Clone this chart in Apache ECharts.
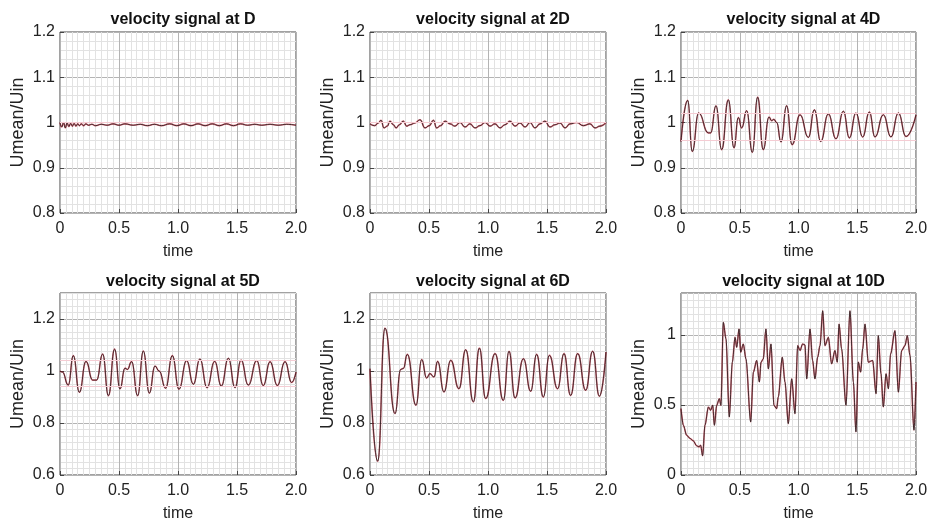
<!DOCTYPE html>
<html><head><meta charset="utf-8">
<script src="https://cdn.jsdelivr.net/npm/echarts@6/dist/echarts.min.js"></script>
<style>html,body{margin:0;padding:0;background:#fff}#c{width:932px;height:524px}</style>
</head><body><div id="c"></div>
<script>
// ---- data (time, Umean/Uin) ----
const titles = ['velocity signal at D','velocity signal at 2D','velocity signal at 4D','velocity signal at 5D','velocity signal at 6D','velocity signal at 10D'];
const xTicks = [0, 0.5, 1.0, 1.5, 2.0];
const sigD = [[0,1.0],[0.015,0.99],[0.03,1.0],[0.045,0.988],[0.06,0.999],[0.075,0.991],[0.09,0.998],[0.105,0.992],[0.12,0.998],[0.135,0.992],[0.15,0.997],[0.165,0.993],[0.18,0.997],[0.2,0.993],[0.22,0.997],[0.24,0.994],[0.27,0.996],[0.3,0.993],[0.35,0.996],[0.4,0.994],[0.45,0.997],[0.5,0.994],[0.55,0.997],[0.62,0.994],[0.68,0.996],[0.74,0.993],[0.8,0.996],[0.86,0.993],[0.93,0.997],[0.99,0.993],[1.05,0.997],[1.11,0.993],[1.17,0.997],[1.23,0.993],[1.29,0.997],[1.35,0.993],[1.41,0.997],[1.47,0.993],[1.53,0.997],[1.59,0.994],[1.65,0.996],[1.71,0.994],[1.78,0.996],[1.85,0.994],[1.92,0.996],[2.0,0.994]];
const sig2D = [[0,0.997],[0.04,0.993],[0.071,0.999],[0.093,1.005],[0.119,0.988],[0.147,0.992],[0.169,1.003],[0.198,0.995],[0.221,0.988],[0.249,0.995],[0.282,1.003],[0.311,0.992],[0.339,0.995],[0.381,0.999],[0.424,1.006],[0.466,0.988],[0.503,0.993],[0.537,1.005],[0.565,0.988],[0.599,0.993],[0.636,1.003],[0.678,0.997],[0.72,0.992],[0.763,1.0],[0.805,0.99],[0.847,0.997],[0.89,0.988],[0.932,0.993],[0.975,1.0],[1.017,0.992],[1.059,0.997],[1.102,0.988],[1.144,0.995],[1.186,1.003],[1.229,0.992],[1.271,0.999],[1.314,0.99],[1.356,1.0],[1.398,0.988],[1.441,0.997],[1.483,1.003],[1.525,0.99],[1.568,0.995],[1.61,0.999],[1.653,0.988],[1.695,0.997],[1.751,1.0],[1.808,0.993],[1.864,0.997],[1.907,0.988],[1.949,0.992],[2.0,1.0]];
const sig4D = [[0,0.958],[0.057,1.049],[0.096,0.936],[0.15,1.021],[0.233,0.977],[0.252,0.977],[0.298,1.037],[0.346,0.94],[0.403,1.05],[0.451,0.944],[0.488,1.011],[0.516,0.988],[0.559,1.026],[0.607,0.934],[0.652,1.056],[0.70,0.94],[0.749,1.012],[0.772,1.004],[0.79,1.007],[0.814,1.0],[0.851,0.957],[0.899,1.037],[0.945,0.951],[1.013,1.017],[1.084,0.967],[1.135,1.028],[1.189,0.958],[1.254,1.019],[1.319,0.964],[1.382,1.025],[1.433,0.966],[1.489,1.021],[1.546,0.968],[1.603,1.023],[1.651,0.968],[1.722,1.017],[1.787,0.968],[1.85,1.021],[1.915,0.969],[2.0,1.017]];
const sig5D = [[0,1.0],[0.02,0.996],[0.07,0.946],[0.113,1.059],[0.164,0.918],[0.22,1.037],[0.277,0.965],[0.31,0.965],[0.362,1.065],[0.41,0.905],[0.463,1.084],[0.508,0.931],[0.551,1.011],[0.571,1.006],[0.607,1.036],[0.658,0.905],[0.706,1.077],[0.757,0.915],[0.805,1.019],[0.84,1.0],[0.895,0.934],[0.952,1.059],[1.008,0.93],[1.073,1.04],[1.13,0.949],[1.186,1.046],[1.246,0.936],[1.311,1.037],[1.367,0.942],[1.427,1.049],[1.483,0.936],[1.534,1.042],[1.596,0.946],[1.667,1.04],[1.723,0.944],[1.78,1.036],[1.842,0.944],[1.907,1.036],[1.963,0.956],[2.0,0.996]];
const sig6D = [[0,1.009],[0.065,0.653],[0.127,1.165],[0.212,0.836],[0.26,1.006],[0.283,1.01],[0.316,1.064],[0.39,0.868],[0.438,1.044],[0.48,0.973],[0.508,0.99],[0.542,0.977],[0.573,1.037],[0.627,0.919],[0.684,1.041],[0.754,0.932],[0.811,1.082],[0.876,0.881],[0.927,1.088],[0.98,0.894],[1.06,1.067],[1.13,0.887],[1.178,1.076],[1.229,0.896],[1.3,1.047],[1.362,0.922],[1.412,1.064],[1.469,0.9],[1.52,1.06],[1.59,0.932],[1.644,1.067],[1.7,0.906],[1.76,1.067],[1.828,0.926],[1.887,1.076],[1.944,0.903],[2.0,1.073]];
const sig10D = [[0,0.474],[0.02,0.355],[0.048,0.284],[0.077,0.261],[0.105,0.244],[0.133,0.209],[0.153,0.201],[0.167,0.213],[0.184,0.137],[0.204,0.355],[0.233,0.486],[0.252,0.462],[0.27,0.498],[0.284,0.355],[0.304,0.498],[0.326,0.545],[0.34,0.498],[0.36,1.09],[0.383,0.972],[0.411,0.415],[0.437,0.806],[0.46,0.983],[0.474,0.912],[0.494,1.043],[0.508,0.877],[0.53,0.936],[0.553,0.829],[0.593,0.379],[0.616,0.735],[0.644,0.818],[0.667,0.664],[0.681,0.806],[0.7,0.829],[0.723,1.043],[0.743,0.758],[0.766,0.936],[0.791,0.498],[0.814,0.474],[0.828,0.557],[0.862,0.841],[0.885,0.664],[0.913,0.367],[0.942,0.687],[0.97,0.438],[0.993,0.924],[1.013,0.889],[1.035,0.936],[1.055,0.929],[1.07,0.687],[1.098,1.043],[1.12,0.818],[1.14,0.687],[1.163,0.841],[1.183,0.924],[1.206,1.173],[1.225,0.924],[1.254,0.983],[1.282,0.794],[1.31,0.889],[1.33,0.806],[1.345,1.078],[1.367,0.9],[1.404,0.498],[1.438,1.173],[1.467,0.664],[1.489,0.308],[1.509,0.806],[1.529,0.735],[1.546,0.9],[1.566,1.078],[1.594,0.806],[1.631,0.818],[1.66,0.581],[1.679,0.995],[1.702,0.723],[1.722,0.486],[1.745,0.723],[1.765,0.616],[1.784,0.865],[1.821,1.031],[1.85,0.592],[1.878,0.889],[1.906,0.924],[1.926,0.995],[1.949,0.853],[1.983,0.32],[2.0,0.664]];
const signals = [sigD, sig2D, sig4D, sig5D, sig6D, sig10D];
// faint envelope levels seen as light red horizontal lines
const envelopes = [[1.003],[1.005],[1.02,0.965],[1.04,0.94],[],[]];
const yMin = [0.8,0.8,0.8,0.6,0.6,0];
const yMax = [1.2,1.2,1.2,1.3,1.3,1.3];
const yStep = [0.1,0.1,0.1,0.2,0.2,0.5];
const yMinorSplit = [5,5,5,8,8,10];

// ---- layout ----
const lefts = [60,370,681];
const widths = [236,236,235];
const tops = [32,293];
const heights = [181,182];
const FONT = '"Liberation Sans", Arial, sans-serif';
const fmt = v => String(Math.round(v*100)/100);

const grid=[], xAxis=[], yAxis=[], series=[], title=[];
for (let i=0;i<6;i++){
  const c=i%3, r=Math.floor(i/3);
  grid.push({left:lefts[c], top:tops[r], width:widths[c], height:heights[r], show:true, borderColor:'#444', borderWidth:1, backgroundColor:'#fff', containLabel:false});
  title.push({text:titles[i], left:lefts[c]+widths[c]/2, top:tops[r]-(r===0?25:24), textAlign:'center',
    textStyle:{fontFamily:FONT, fontWeight:'bold', fontSize:16, color:'#111'}});
  xAxis.push({type:'value', gridIndex:i, min:0, max:2, interval:0.5,
    name:'time', nameLocation:'middle', nameGap:31, nameTextStyle:{fontFamily:FONT, fontSize:16, color:'#222'},
    axisLine:{show:false}, axisTick:{show:true, inside:true, length:4, lineStyle:{color:'#444'}},
    minorTick:{show:false, splitNumber:10},
    axisLabel:{fontFamily:FONT, fontSize:16, color:'#222', margin:8, formatter:v=> v===0?'0':v.toFixed(1)},
    splitLine:{show:true, lineStyle:{color:'#b4b4b4', width:1}},
    minorSplitLine:{show:true, lineStyle:{color:'#e2e2e2', width:1}}});
  yAxis.push({type:'value', gridIndex:i, min:yMin[i], max:yMax[i], interval:yStep[i],
    name:'Umean/Uin', nameLocation:'middle', nameGap:33, nameTextStyle:{fontFamily:FONT, fontSize:18, color:'#222'},
    axisLine:{show:false}, axisTick:{show:true, inside:true, length:4, lineStyle:{color:'#444'}},
    minorTick:{show:false, splitNumber:yMinorSplit[i]},
    axisLabel:{fontFamily:FONT, fontSize:16, color:'#222', margin:5, showMaxLabel: yMax[i]!==1.3, formatter:fmt},
    splitLine:{show:true, lineStyle:{color:'#b4b4b4', width:1}},
    minorSplitLine:{show:true, lineStyle:{color:'#e2e2e2', width:1}}});
  const sm = i===5 ? 0.3 : 0.5;
  series.push({type:'line', xAxisIndex:i, yAxisIndex:i, data:signals[i], showSymbol:false, smooth:sm, smoothMonotone:'x',
    lineStyle:{color:'#d0142c', width:1.6, opacity:0.6}, silent:true, z:3,
    markLine:{silent:true, symbol:'none', label:{show:false}, lineStyle:{color:'#f5ccd3', width:1, type:'solid'},
      data: envelopes[i].map(v=>({yAxis:v}))}});
  series.push({type:'line', xAxisIndex:i, yAxisIndex:i, data:signals[i], showSymbol:false, smooth:sm, smoothMonotone:'x',
    lineStyle:{color:'#1a1a1a', width:0.8}, silent:true, z:4});
}
const chart = echarts.init(document.getElementById('c'), null, {renderer:'canvas'});
chart.setOption({animation:false, backgroundColor:'#fff', title, grid, xAxis, yAxis, series});
</script></body></html>
